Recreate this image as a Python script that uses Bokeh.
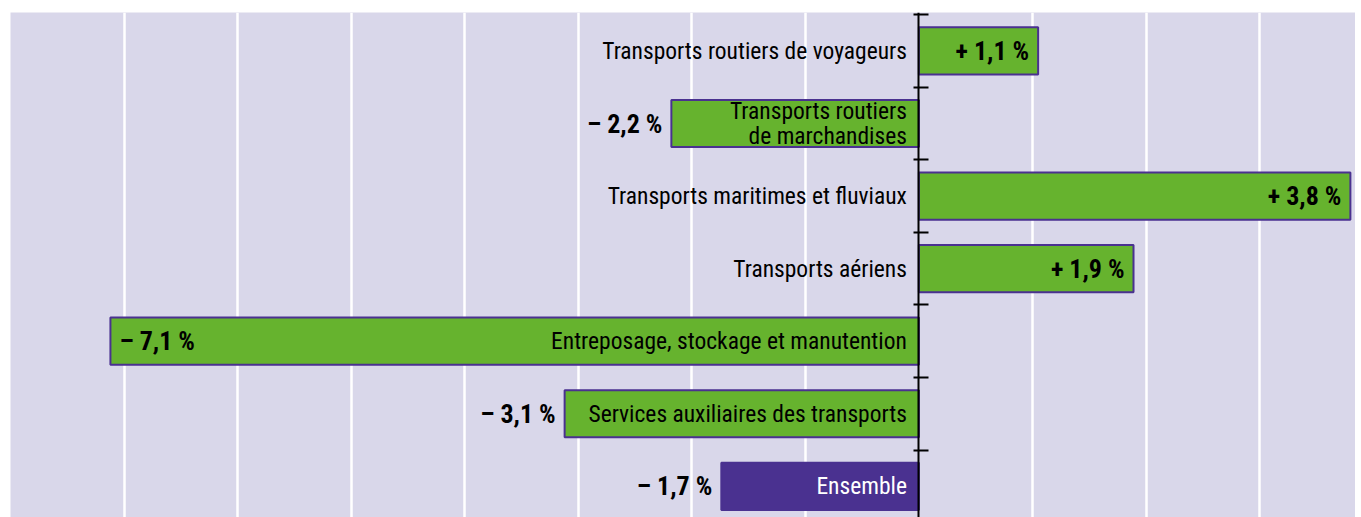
from bokeh.plotting import figure
from bokeh.models import Range1d, FixedTicker, LinearAxis, Grid, ColumnDataSource
from bokeh.embed import file_html
from bokeh.resources import INLINE
from bokeh.core.properties import value

categories = [
    "Transports routiers de voyageurs",
    "Transports routiers\nde marchandises",
    "Transports maritimes et fluviaux",
    "Transports aériens",
    "Entreposage, stockage et manutention",
    "Services auxiliaires des transports",
    "Ensemble",
]
# bar lengths as drawn (percent change)
changes = [1.05, -2.18, 3.8, 1.89, -7.12, -3.12, -1.74]
# printed labels
value_labels = ["+ 1,1 %", "\u2013 2,2 %", "+ 3,8 %", "+ 1,9 %",
                "\u2013 7,1 %", "\u2013 3,1 %", "\u2013 1,7 %"]
grid_ticks = [-8, -7, -6, -5, -4, -3, -2, -1, 1, 2, 3]

GREEN = "#66b32e"
PURPLE = "#4a3190"
BG = "#d9d7ea"
FONT = "Roboto Condensed"

n = len(categories)
ys = list(range(n))
is_total = [c == "Ensemble" for c in categories]
fills = [PURPLE if t else GREEN for t in is_total]
cat_colors = ["white" if t else "black" for t in is_total]

p = figure(width=1355, height=517, output_backend="svg", toolbar_location=None,
           x_range=Range1d(-8.0, 3.845), y_range=Range1d(6.43, -0.53),
           x_axis_location=None, y_axis_location=None,
           min_border_left=10, min_border_right=0, min_border_top=12, min_border_bottom=0)
p.background_fill_color = BG
p.border_fill_color = "white"
p.outline_line_color = None
p.xgrid.visible = False
p.ygrid.visible = False

grid = Grid(dimension=0, ticker=FixedTicker(ticks=grid_ticks),
            grid_line_color="white", grid_line_width=2.5)
p.add_layout(grid)

src = ColumnDataSource(dict(y=ys, v=changes, fill=fills, cat=categories,
                            catc=cat_colors))
p.hbar(y="y", left=0, right="v", height=0.65, fill_color="fill",
       line_color=PURPLE, line_width=2, source=src)

# y axis at x = 0 with ticks between categories
bounds = [i - 0.5 for i in range(n + 1)]
ax = LinearAxis(fixed_location=0, ticker=FixedTicker(ticks=bounds),
                axis_line_color="black", axis_line_width=2,
                major_tick_line_color="black", major_tick_line_width=2,
                major_tick_in=10, major_tick_out=5, minor_tick_line_color=None,
                major_label_text_font_size="0px",
                major_label_overrides={b: "" for b in bounds})
p.add_layout(ax, "left")

# category labels
p.text(x=0, y="y", text="cat", source=src, x_offset=-12, text_align="right",
       text_baseline="middle", text_color="catc", text_font=value(FONT),
       text_font_size="23.5px", text_line_height=0.88)

# value labels
inside = [v < -5 for v in changes]
voff = [9 if ins else -9 for ins in inside]
valign = ["left" if ins else "right" for ins in inside]
vsrc = ColumnDataSource(dict(x=changes, y=ys, t=value_labels, off=voff, al=valign))
p.text(x="x", y="y", text="t", source=vsrc, x_offset="off", text_align="al",
       text_baseline="middle", text_color="black", text_font=value(FONT),
       text_font_style="bold", text_font_size="26px")

open("out.html", "w").write(file_html(p, INLINE))
